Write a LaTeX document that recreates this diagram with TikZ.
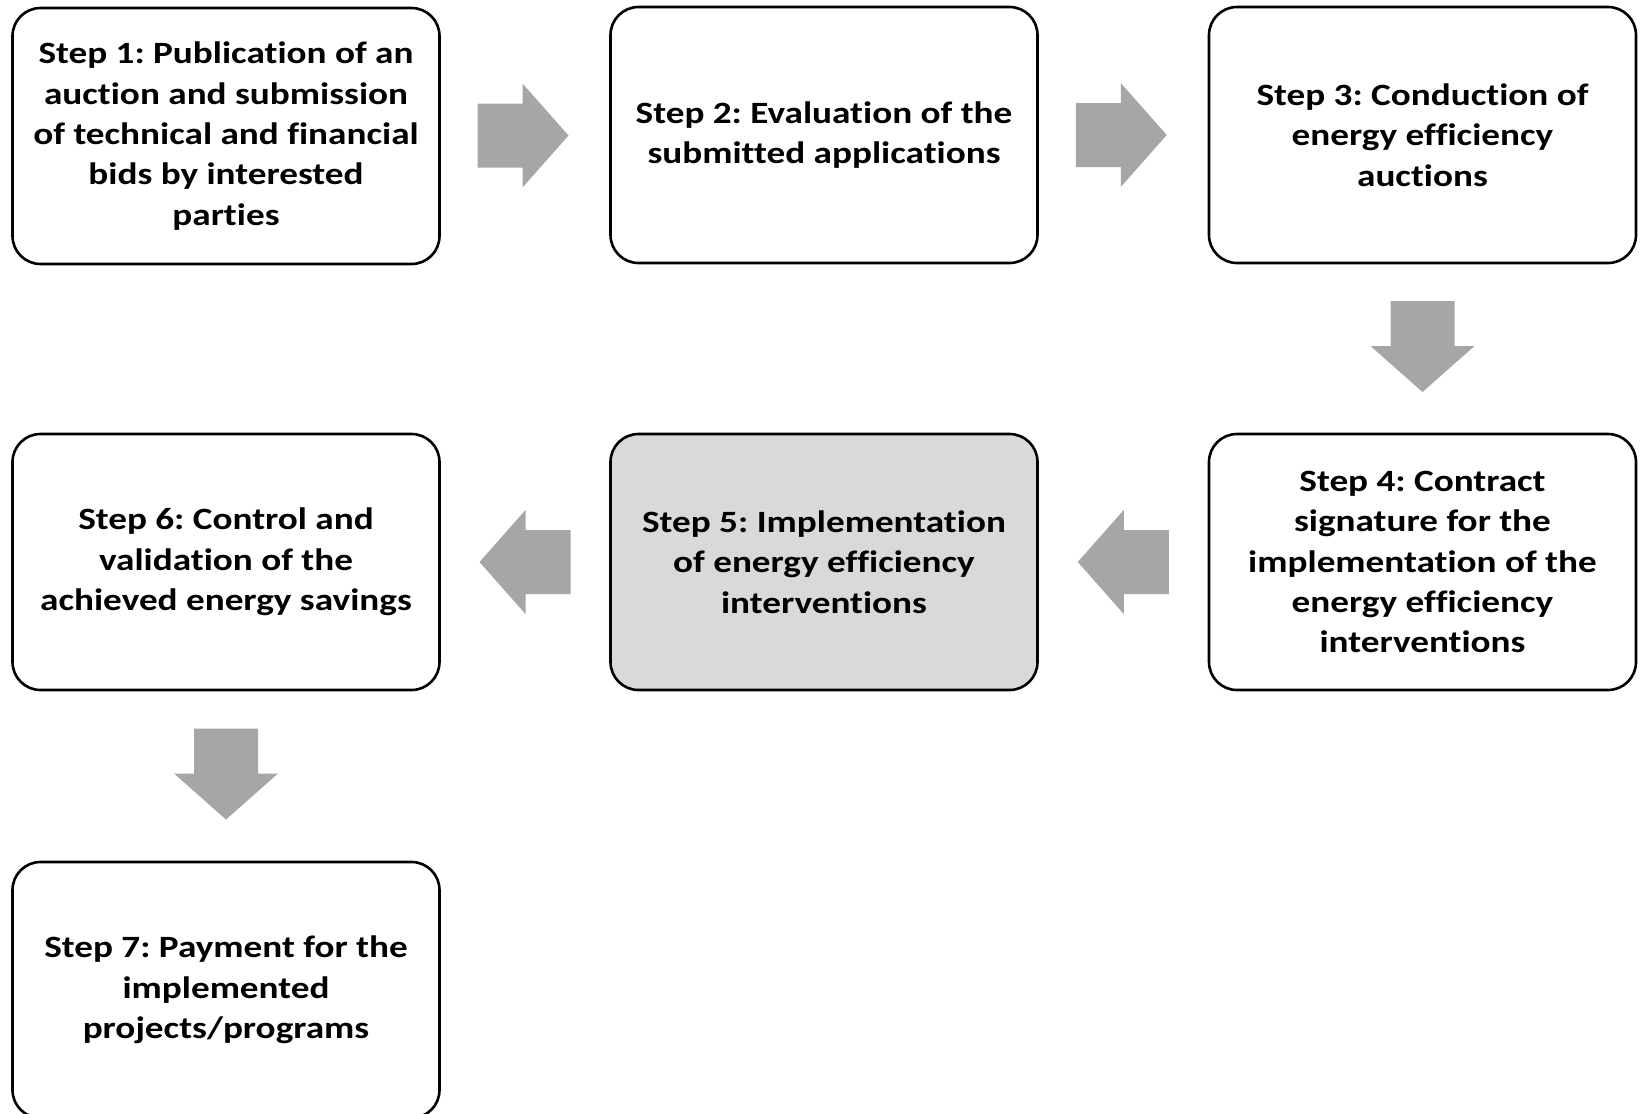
\documentclass[tikz,border=0pt]{standalone}
\usepackage{fontspec}
\setmainfont{Carlito}[FakeStretch=1.2, Ligatures=NoCommon]
\usetikzlibrary{calc}
\definecolor{arrowgray}{HTML}{A6A6A6}
\definecolor{hilite}{HTML}{D9D9D9}
\tikzset{
  stepbox/.style={draw=black, line width=1.3pt, rounded corners=14pt, fill=white,
    minimum width=213.5pt, minimum height=128pt, align=center, inner sep=2pt,
    font=\bfseries\fontsize{15.5}{20.2}\selectfont\frenchspacing},
  blockarrow/.pic={\fill[arrowgray] (-45.5,-32) -- (-0.5,-32) -- (-0.5,-52) -- (45.5,0)
      -- (-0.5,52) -- (-0.5,32) -- (-45.5,32) -- cycle;}
}
\begin{document}
\begin{tikzpicture}[x=0.5pt,y=-0.5pt]
\useasboundingbox (0,0) rectangle (1640,1114);
\clip (0,0) rectangle (1640,1114);
\fill[white] (0,0) rectangle (1640,1114);
\node[stepbox] (s1) at (226,136) {Step 1: Publication of an\\auction and submission\\of technical and financial\\bids by interested\\parties};
\node[stepbox] (s2) at (824,135) {Step 2: Evaluation of the\\submitted applications};
\node[stepbox] (s3) at (1422.5,135) {Step 3: Conduction of\\energy efficiency\\auctions};
\node[stepbox] (s4) at (1422.5,562) {Step 4: Contract\\signature for the\\implementation of the\\energy efficiency\\interventions};
\node[stepbox, fill=hilite] (s5) at (824,562) {Step 5: Implementation\\of energy efficiency\\interventions};
\node[stepbox] (s6) at (226,562) {Step 6: Control and\\validation of the\\achieved energy savings};
\node[stepbox] (s7) at (226,990) {Step 7: Payment for the\\implemented\\projects/programs};
\coordinate (a12) at ($(s1.east)!0.5!(s2.west)$);
\coordinate (a23) at ($(s2.east)!0.5!(s3.west)$);
\coordinate (a34) at ($(s3.south)!0.5!(s4.north)$);
\coordinate (a45) at ($(s4.west)!0.5!(s5.east)$);
\coordinate (a56) at ($(s5.west)!0.5!(s6.east)$);
\coordinate (a67) at ($(s6.south)!0.5!(s7.north)$);
\pic at ([xshift=-1pt]a12) {blockarrow};
\pic at ([xshift=-1pt]a23) {blockarrow};
\pic[rotate=-90] at ([yshift=1pt]a34) {blockarrow};
\pic[rotate=180] at (a45) {blockarrow};
\pic[rotate=180] at (a56) {blockarrow};
\pic[rotate=-90] at ([yshift=1pt]a67) {blockarrow};
\end{tikzpicture}
\end{document}
